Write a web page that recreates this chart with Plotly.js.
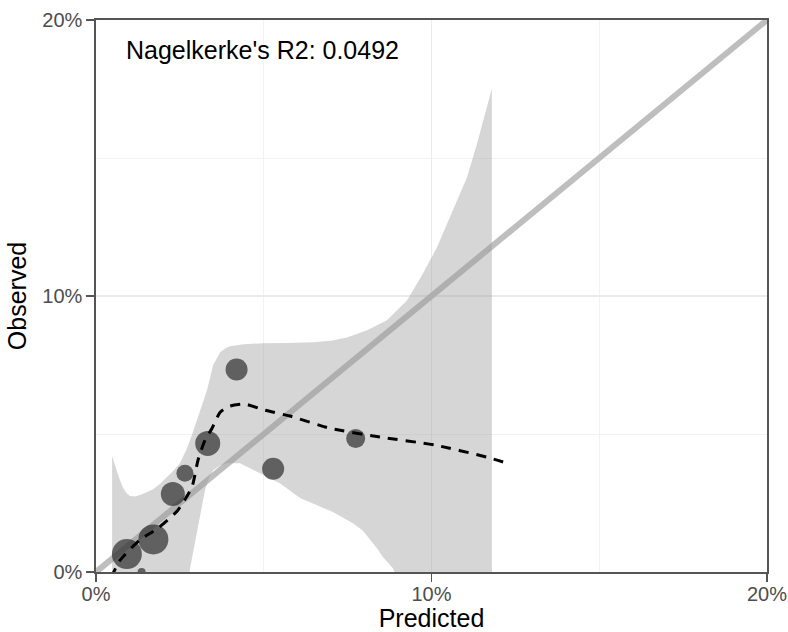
<!DOCTYPE html>
<html>
<head>
<meta charset="utf-8">
<script src="https://cdn.plot.ly/plotly-3.0.1.min.js"></script>
<style>
  html, body { margin: 0; padding: 0; background: #ffffff; }
  #chart { width: 788px; height: 632px; }
</style>
</head>
<body>
<div id="chart"></div>
<script>
// ---- data (values in percent) ----
var pointX    = [0.92, 1.71, 2.29, 2.65, 3.33, 4.19, 5.28, 7.74, 1.36];
var pointY    = [0.65, 1.18, 2.83, 3.58, 4.66, 7.34, 3.74, 4.84, 0.00];
var pointSize = [30, 30, 24, 17, 25, 22, 22, 19, 8];

var smoothX = [0.45, 0.72, 1.31, 1.85, 2.44, 2.86, 3.04, 3.25, 3.46, 3.70, 3.99, 4.44, 5.04, 5.78, 6.97, 8.46, 10.10, 11.65, 12.25];
var smoothY = [-0.2, 0.43, 1.16, 1.59, 2.24, 3.08, 4.05, 4.78, 5.21, 5.79, 6.01, 6.08, 5.86, 5.65, 5.21, 4.89, 4.60, 4.16, 3.94];

var bandUpperX = [0.48, 0.55, 0.63, 0.72, 0.81, 0.91, 1.01, 1.15, 1.31, 1.50, 1.70, 1.91, 2.12, 2.30, 2.50, 2.70, 2.89, 3.10, 3.31, 3.49, 3.60, 3.70, 3.85, 3.99, 4.40, 4.98, 5.70, 6.47, 7.00, 7.48, 8.08, 8.67, 9.27, 9.75, 10.16, 10.64, 11.06, 11.36, 11.60, 11.80];
var bandUpperY = [4.20, 3.90, 3.62, 3.31, 3.04, 2.86, 2.75, 2.74, 2.79, 2.88, 3.00, 3.20, 3.44, 3.66, 3.94, 4.45, 5.07, 5.79, 6.59, 7.49, 7.76, 7.96, 8.10, 8.18, 8.25, 8.29, 8.30, 8.32, 8.38, 8.50, 8.76, 9.12, 9.84, 10.82, 11.76, 13.10, 14.30, 15.53, 16.61, 17.52];
var bandLowerX = [0.48, 2.75, 2.80, 2.95, 3.10, 3.25, 3.38, 3.49, 3.70, 3.90, 4.29, 4.68, 5.10, 5.48, 6.08, 6.59, 7.06, 7.66, 7.95, 8.17, 8.38, 8.55, 8.72, 8.85, 9.00, 11.80];
var bandLowerY = [-2.0, -0.8, 0.11, 1.05, 1.99, 2.97, 3.45, 3.69, 3.86, 3.94, 3.94, 3.69, 3.45, 3.22, 2.68, 2.42, 2.17, 1.77, 1.50, 1.16, 0.85, 0.54, 0.32, 0.14, -0.30, -2.0];

var diagX = [0, 20];
var diagY = [0, 20];

var tickVals   = [0, 10, 20];
var tickLabels = ['0%', '10%', '20%'];

var annotationText = "Nagelkerke's R2: 0.0492";

// ---- build band polygon ----
var bandX = bandUpperX.concat(bandLowerX.slice().reverse());
var bandY = bandUpperY.concat(bandLowerY.slice().reverse());

var traces = [
  {
    x: diagX, y: diagY, mode: 'lines', type: 'scatter',
    line: { color: '#bebebe', width: 6 },
    hoverinfo: 'skip', showlegend: false
  },
  {
    x: bandX, y: bandY, mode: 'lines', type: 'scatter',
    fill: 'toself', fillcolor: 'rgba(153,153,153,0.4)',
    line: { width: 0, color: 'rgba(0,0,0,0)' },
    hoverinfo: 'skip', showlegend: false
  },
  {
    x: pointX, y: pointY, mode: 'markers', type: 'scatter',
    marker: { color: '#2e2e2e', size: pointSize, line: { width: 0 } },
    showlegend: false
  },
  {
    x: smoothX, y: smoothY, mode: 'lines', type: 'scatter',
    line: { color: '#000000', width: 3, dash: '10px,8px', shape: 'spline', smoothing: 0.6 },
    showlegend: false
  }
];

var axisCommon = {
  range: [0, 20],
  tickvals: tickVals,
  ticktext: tickLabels,
  showgrid: true,
  gridcolor: '#ebebeb',
  gridwidth: 1.2,
  minor: { dtick: 5, tick0: 0, showgrid: true, gridcolor: '#f2f2f2', gridwidth: 1 },
  zeroline: false,
  showline: true,
  mirror: true,
  linecolor: '#555555',
  linewidth: 1.6,
  ticks: 'outside',
  ticklen: 8,
  tickwidth: 1.4,
  tickcolor: '#555555',
  tickfont: { family: 'Liberation Sans, Arial, sans-serif', size: 20, color: '#4d4d4d' },
  fixedrange: true
};

var layout = {
  width: 788,
  height: 632,
  paper_bgcolor: '#ffffff',
  plot_bgcolor: '#ffffff',
  margin: { l: 96, r: 21, t: 20, b: 60 },
  font: { family: 'Liberation Sans, Arial, sans-serif', color: '#000000' },
  xaxis: Object.assign({}, axisCommon, {
    ticklabelstandoff: -5,
    title: { text: 'Predicted', font: { size: 25, color: '#000000' }, standoff: 4 }
  }),
  yaxis: Object.assign({}, axisCommon, {
    title: { text: 'Observed', font: { size: 25, color: '#000000' }, standoff: 8 }
  }),
  annotations: [
    {
      xref: 'paper', yref: 'paper',
      x: 0.041, y: 0.946,
      xanchor: 'left', yanchor: 'middle',
      text: annotationText,
      showarrow: false,
      font: { family: 'Liberation Sans, Arial, sans-serif', size: 25, color: '#000000' }
    }
  ]
};

Plotly.newPlot('chart', traces, layout, { displayModeBar: false, staticPlot: true });
</script>
</body>
</html>
